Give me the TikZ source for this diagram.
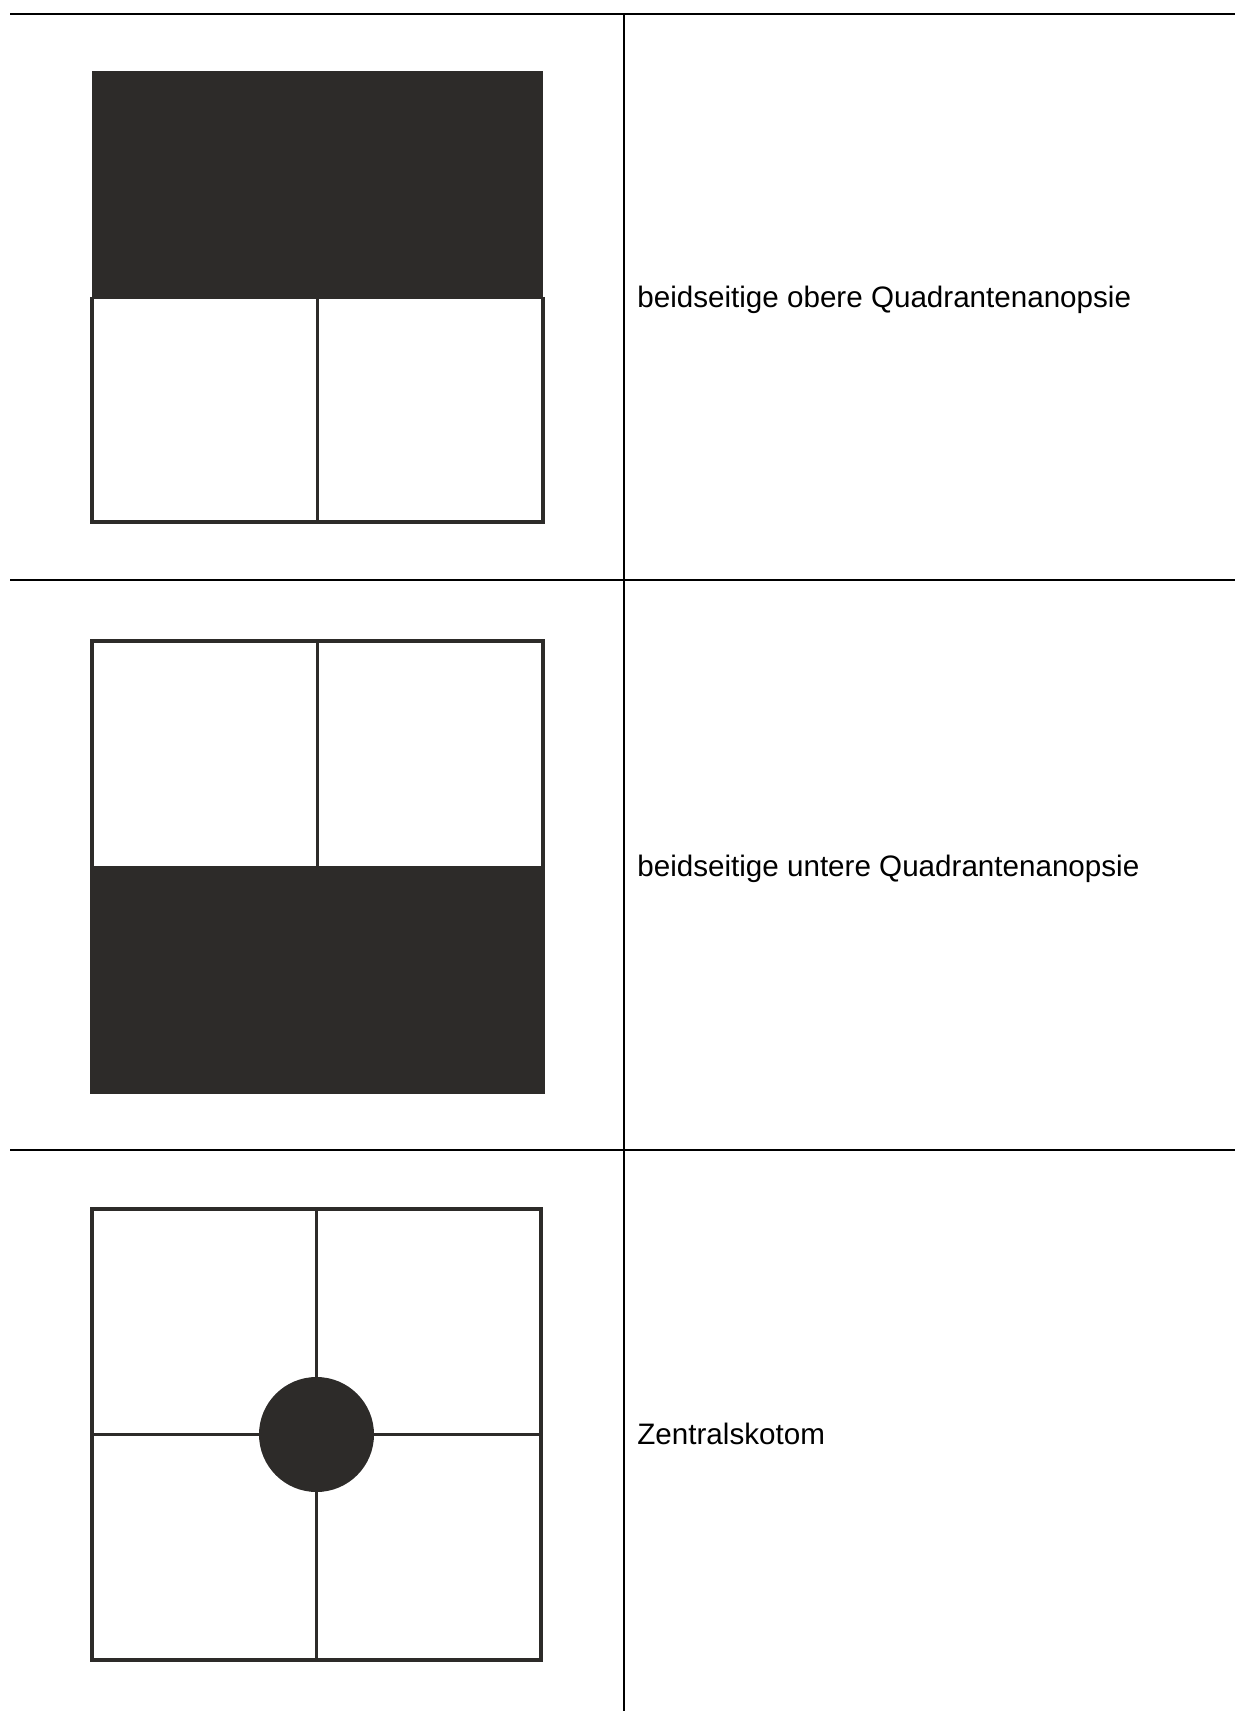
\documentclass[tikz,border=0pt]{standalone}
\usepackage{fontspec}
\setmainfont{Liberation Sans}
\definecolor{dunkel}{HTML}{2D2B29}
\tikzset{
    tabellenlinie/.style={line width=1pt, black},
    feldrand/.style={line width=1.6pt, draw=dunkel},
    ausfall/.style={fill=dunkel},
    befund/.style={anchor=base west, inner sep=0pt, font=\fontsize{14.8}{17}\selectfont},
}

\begin{document}
\begin{tikzpicture}[x=0.5pt,y=-0.5pt]
\useasboundingbox (0,0) rectangle (1235,1711);
% Tabelle
\draw[tabellenlinie] (10,14) -- (1235,14);
\draw[tabellenlinie] (10,580) -- (1235,580);
\draw[tabellenlinie] (10,1150) -- (1235,1150);
\draw[tabellenlinie] (624,14) -- (624,1711);
% Zeile 1
\begin{scope}[shift={(0,0)}]
\fill[ausfall] (92,71) rectangle (543,297);
\draw[feldrand] (92,297) -- (92,522) -- (543,522) -- (543,297);
\draw[feldrand] (92,297) -- (543,297);
\draw[feldrand] (317.5,297) -- (317.5,522);
\node[befund] (obere) at (637,308) {beidseitige obere Quadrantenanopsie};
\end{scope}
% Zeile 2
\begin{scope}[shift={(0,570)}]
\draw[feldrand] (92,71) rectangle (543,522);
\draw[feldrand] (317.5,71) -- (317.5,297);
\fill[ausfall] (92,296) rectangle (543,522);
\node[befund] (untere) at (637,306) {beidseitige untere Quadrantenanopsie};
\end{scope}
% Zeile 3
\begin{scope}[shift={(0,1138)}]
\draw[feldrand] (92,71) rectangle (541,522);
\draw[feldrand] (316.5,71) -- (316.5,522);
\draw[feldrand] (92,296.5) -- (541,296.5);
\fill[ausfall] (316.5,296.5) circle (57.5);
\node[befund] (zentral) at (637,306) {Zentralskotom};
\end{scope}
\end{tikzpicture}
\end{document}
